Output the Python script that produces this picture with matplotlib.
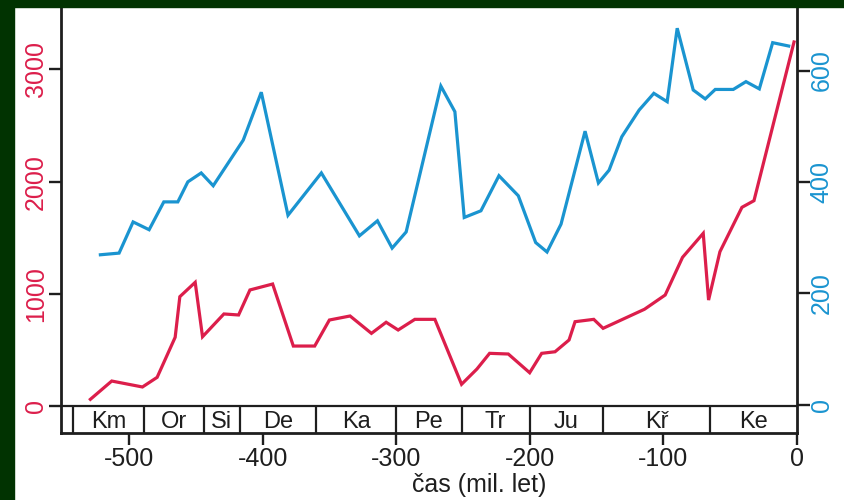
import matplotlib
matplotlib.use('Agg')
import matplotlib.pyplot as plt
from matplotlib.patches import Rectangle

plt.rcParams['font.family'] = ['Liberation Sans', 'DejaVu Sans']
plt.rcParams['axes.unicode_minus'] = False

RED = '#dc1e4b'
BLUE = '#1a94d0'
INK = '#1e1e1e'
GREEN = '#013301'

# time in millions of years (negative = ago)
red_t = [-529, -513, -490, -479, -465.5, -462, -450.5, -445, -429, -418,
         -409.5, -392.5, -377, -361, -350, -334.5, -318.5, -307.5, -298.5,
         -286, -271, -251, -239.5, -230, -216, -200, -191, -181, -170.5,
         -166, -152, -145, -114, -98.5, -85.5, -70, -66, -57.5, -41, -32, -2]
red_v = [59, 222, 169, 255, 612, 974, 1102, 617, 820, 811,
         1034, 1087, 534, 534, 766, 802, 647, 746, 677,
         772, 772, 193, 329, 469, 463, 296, 469, 483, 588,
         751, 772, 692, 862, 989, 1325, 1539, 944, 1375, 1771, 1830, 3245]

blue_t = [-521.5, -507.5, -497, -485, -474, -463.5, -456, -446, -437, -414.5,
          -401, -381, -356, -327.5, -314, -303, -292.5, -266.5, -256, -249,
          -236.5, -223, -208.5, -195.5, -187, -176.5, -158.5, -148.5, -140.5,
          -131, -118, -107, -97, -89.5, -77.5, -68.5, -61, -47.5, -38, -28,
          -18, -6]
blue_v = [269, 272, 328, 314, 364, 364, 400, 416, 393, 475,
          561, 340, 416, 303, 330, 281, 310, 572, 526, 336,
          348, 411, 375, 291, 274, 324, 491, 398, 421,
          481, 529, 559, 544, 676, 565, 549, 566, 566, 580, 567,
          650, 644]

period_edges = [-542, -489, -444, -417, -360, -300, -251, -200, -145, -65, 0]
period_names = ['Km', 'Or', 'Si', 'De', 'Ka', 'Pe', 'Tr', 'Ju', 'Kř', 'Ke']

x_ticks = [-500, -400, -300, -200, -100, 0]
left_ticks = [0, 1000, 2000, 3000]
right_ticks = [0, 200, 400, 600]

W, H = 845, 500
fig = plt.figure(figsize=(W / 100, H / 100), dpi=100, facecolor='white')
fig.patches.append(Rectangle((0, 0), 14 / W, 1, transform=fig.transFigure,
                             color=GREEN, zorder=0))
fig.patches.append(Rectangle((0, 1 - 7 / H), 1, 7 / H, transform=fig.transFigure,
                             color=GREEN, zorder=0))

L, R, B, T = 61, 796.7, 433.3, 8
ax = fig.add_axes([L / W, 1 - B / H, (R - L) / W, (B - T) / H])
ax.set_xlim(-551, 0)
y_lo = -244
ax.set_ylim(y_lo, 3548)
ax.patch.set_visible(False)

ax2 = ax.twinx()
ax2.set_ylim(-51.7, 712.3)

ax.plot(red_t, red_v, color=RED, lw=2.3, solid_joinstyle='miter', zorder=3)
ax2.plot(blue_t, blue_v, color=BLUE, lw=2.3, solid_joinstyle='miter', zorder=3)

# geological period strip below zero
ax.axhline(0, color=INK, lw=1.6, zorder=2)
ax.vlines(period_edges[:-1], y_lo, 0, colors=INK, lw=1.6, zorder=2)
for i, name in enumerate(period_names):
    xc = (period_edges[i] + period_edges[i + 1]) / 2
    ax.text(xc, y_lo / 2, name, ha='center', va='center_baseline',
            fontsize=17, color=INK)

for a in (ax, ax2):
    a.spines['top'].set_visible(False)
ax.spines['right'].set_visible(False)
ax2.spines['left'].set_visible(False)
ax2.spines['bottom'].set_visible(False)
for s in ('left', 'bottom'):
    ax.spines[s].set_linewidth(2.0)
    ax.spines[s].set_color(INK)
ax2.spines['right'].set_linewidth(2.0)
ax2.spines['right'].set_color(INK)

ax.set_xticks(x_ticks)
ax.set_xticklabels([str(v) for v in x_ticks])
ax.tick_params(axis='x', direction='out', length=8.6, width=1.7, color=INK,
               labelcolor=INK, labelsize=18, pad=1.5)

ax.set_yticks(left_ticks)
ax.set_yticklabels([str(v) for v in left_ticks])
ax.tick_params(axis='y', direction='out', length=8.6, width=1.7, color=INK,
               labelcolor=RED, labelsize=18, pad=1)
for lab in ax.get_yticklabels():
    lab.set_rotation(90)
    lab.set_va('center')

ax2.set_yticks(right_ticks)
ax2.set_yticklabels([str(v) for v in right_ticks])
ax2.tick_params(axis='y', direction='out', length=9.4, width=1.7, color=INK,
                labelcolor=BLUE, labelsize=18, pad=0)
for lab in ax2.get_yticklabels():
    lab.set_rotation(90)
    lab.set_va('center')

fig.text(479 / W, (H - 491.7) / H, 'čas (mil. let)', ha='center',
         va='baseline', fontsize=18, color=INK)

fig.savefig('out.png', dpi=100, facecolor=fig.get_facecolor())
